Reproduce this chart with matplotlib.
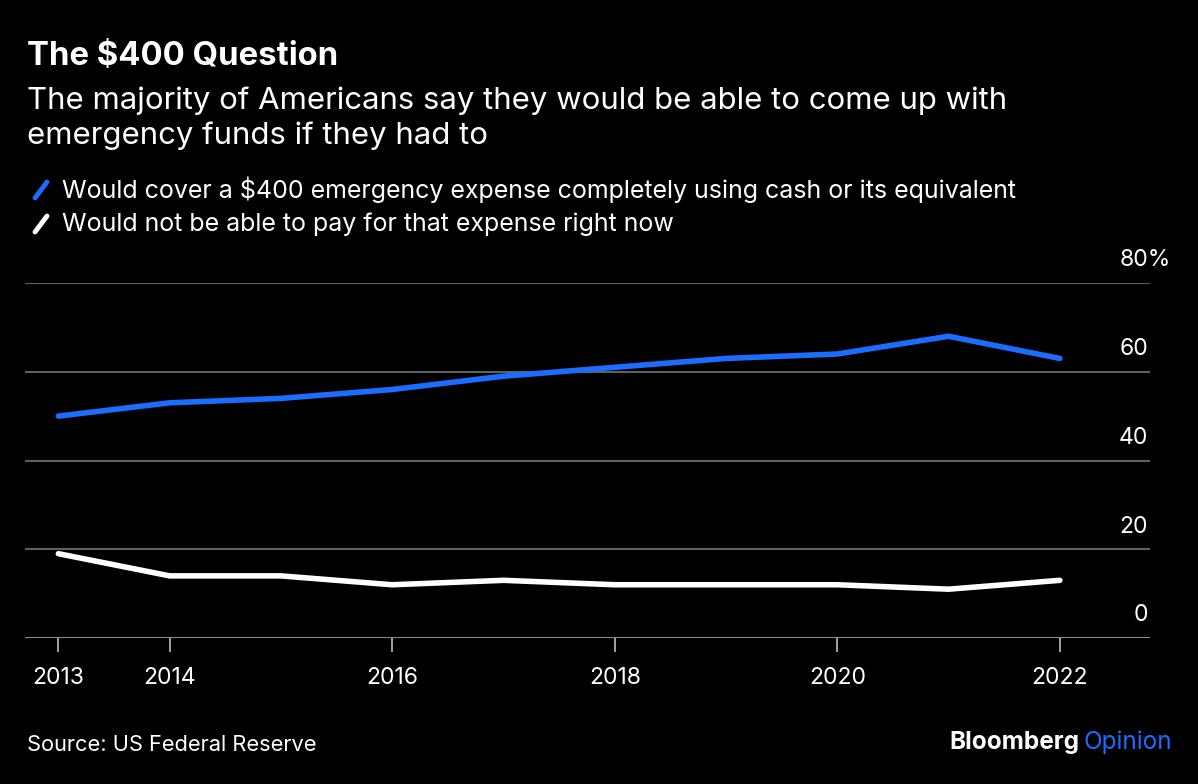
import matplotlib
matplotlib.use("Agg")
import matplotlib.pyplot as plt
from matplotlib.lines import Line2D

years = [2013, 2014, 2015, 2016, 2017, 2018, 2019, 2020, 2021, 2022]
cover_cash = [50, 53, 54, 56, 59, 61, 63, 64, 68, 63]
cannot_pay = [19, 14, 14, 12, 13, 12, 12, 12, 11, 13]
xticks = [2013, 2014, 2016, 2018, 2020, 2022]
yticks = [0, 20, 40, 60, 80]
ytick_labels = ["0", "20", "40", "60", "80"]

BLUE = "#1a6dff"
BG = "#000000"
plt.rcParams["font.family"] = ["Inter", "DejaVu Sans"]

W, H = 1198, 784
fig = plt.figure(figsize=(W / 100, H / 100), dpi=100, facecolor=BG)


def fx(px):
    return px / W


def fy(py):
    return 1 - py / H


ax = fig.add_axes([fx(25), fy(638), fx(1150) - fx(25), fy(283) - fy(638)])
ax.set_facecolor(BG)
ax.plot(years, cover_cash, color=BLUE, lw=4, solid_capstyle="round",
        solid_joinstyle="round", zorder=3)
ax.plot(years, cannot_pay, color="white", lw=4, solid_capstyle="round",
        solid_joinstyle="round", zorder=3)

ax.set_xlim(2012.70, 2022.81)
ax.set_ylim(0, 80)
for v in yticks[1:]:
    ax.axhline(v, color="#5f5f5f", lw=1.5, zorder=1)
ax.axhline(0, color="#bdbdbd", lw=1.8, zorder=2)
for s in ax.spines.values():
    s.set_visible(False)

ax.set_xticks(xticks)
ax.set_xticklabels([str(x) for x in xticks])
ax.tick_params(axis="x", colors="#bdbdbd", length=10, width=1.2,
               labelcolor="white", labelsize=16.5, pad=11)
ax.set_yticks([])

# y labels sit above their gridlines, numbers right-aligned, "%" hangs out
renderer = fig.canvas.get_renderer()
xlab = (1148 - 25) / 1125
for v, lab in zip(yticks, ytick_labels):
    t = ax.text(xlab, v + 2.6, lab, transform=ax.get_yaxis_transform(),
                ha="right", va="bottom", color="white", fontsize=16.5)
    if v == 80:
        x0 = t.get_window_extent(renderer=renderer).x0
        t.set_text("80%")
        t.set_ha("left")
        t.set_x((x0 / W - fx(25)) / (fx(1150) - fx(25)))

fig.text(fx(27), fy(57), "The $400 Question", color="white", fontsize=23.7,
         fontweight="bold", va="center")
fig.text(fx(27), fy(101), "The majority of Americans say they would be able to come up with",
         color="white", fontsize=22.4, va="center")
fig.text(fx(27), fy(136), "emergency funds if they had to",
         color="white", fontsize=22.4, va="center")

legend = [(BLUE, "Would cover a $400 emergency expense completely using cash or its equivalent", 190),
          ("white", "Would not be able to pay for that expense right now", 224)]
for col, lab, py in legend:
    fig.add_artist(Line2D([fx(35), fx(47)], [fy(py + 8), fy(py - 8)], color=col,
                          lw=3.5, solid_capstyle="round"))
    fig.text(fx(62), fy(py), lab, color="white", fontsize=18, va="center")

fig.text(fx(27), fy(745), "Source: US Federal Reserve", color="white",
         fontsize=15.7, va="center")
t1 = fig.text(fx(1172), fy(742), "Opinion", color=BLUE, fontsize=17.5,
              ha="right", va="center")
fig.canvas.draw()
bb = t1.get_window_extent()
fig.text((bb.x0 - 4) / W, fy(742), "Bloomberg", color="white", fontsize=17.5,
         fontweight="bold", ha="right", va="center")

fig.savefig("out.png", dpi=100, facecolor=BG)
